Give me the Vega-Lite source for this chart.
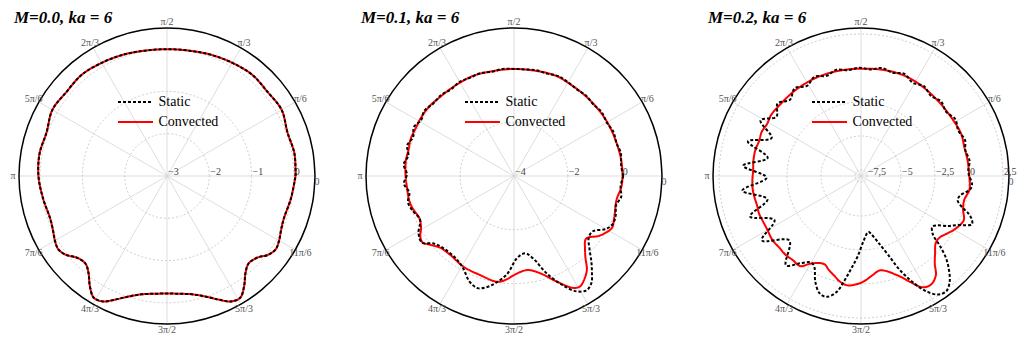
{
"$schema":"https://vega.github.io/schema/vega-lite/v6.json",
"padding":0,
"spacing":17,
"config":{"view":{"stroke":null},"legend":{"orient":"none","legendX":116,"legendY":95,"symbolType":"M-3.5,0H3.5","symbolSize":100,"symbolOffset":12.5,"symbolStrokeWidth":2,"labelFont":"Liberation Serif","labelFontSize":14,"labelColor":"black","labelOffset":16,"rowPadding":6,"padding":0}},
"resolve":{"scale":{"color":"independent","strokeDash":"independent"},"legend":{"color":"independent","strokeDash":"independent"}},
"datasets":{
"ring":[{"a":0},{"a":10},{"a":20},{"a":30},{"a":40},{"a":50},{"a":60},{"a":70},{"a":80},{"a":90},{"a":100},{"a":110},{"a":120},{"a":130},{"a":140},{"a":150},{"a":160},{"a":170},{"a":180},{"a":190},{"a":200},{"a":210},{"a":220},{"a":230},{"a":240},{"a":250},{"a":260},{"a":270},{"a":280},{"a":290},{"a":300},{"a":310},{"a":320},{"a":330},{"a":340},{"a":350},{"a":360}],
"spokes":[{"a":0},{"a":30},{"a":60},{"a":90},{"a":120},{"a":150},{"a":180},{"a":210},{"a":240},{"a":270},{"a":300},{"a":330}],
"alab":[{"a":30,"lab":"π/6"},{"a":60,"lab":"π/3"},{"a":90,"lab":"π/2"},{"a":120,"lab":"2π/3"},{"a":150,"lab":"5π/6"},{"a":180,"lab":"π"},{"a":210,"lab":"7π/6"},{"a":240,"lab":"4π/3"},{"a":270,"lab":"3π/2"},{"a":300,"lab":"5π/3"},{"a":330,"lab":"11π/6"}],
"zlab":[{"a":0,"lab":"0"}],
"g1":[{"v":-3,"lab":"−3"},{"v":-2,"lab":"−2"},{"v":-1,"lab":"−1"},{"v":0,"lab":"0"}],
"g2":[{"v":-4,"lab":"−4"},{"v":-2,"lab":"−2"},{"v":0,"lab":"0"}],
"g3":[{"v":-7.5,"lab":"−7,5"},{"v":-5,"lab":"−5"},{"v":-2.5,"lab":"−2,5"},{"v":0,"lab":"0"},{"v":2.5,"lab":"2,5"}],
"c1":[
{"s":"Convected","t":0,"r":0.04},{"s":"Convected","t":10,"r":0.06},{"s":"Convected","t":20,"r":0.03},{"s":"Convected","t":30,"r":0.13},{"s":"Convected","t":40,"r":0.10},{"s":"Convected","t":50,"r":0.13},{"s":"Convected","t":60,"r":0.09},{"s":"Convected","t":70,"r":0.05},{"s":"Convected","t":80,"r":0.01},{"s":"Convected","t":90,"r":0.0},{"s":"Convected","t":100,"r":0.01},{"s":"Convected","t":110,"r":0.05},{"s":"Convected","t":120,"r":0.09},{"s":"Convected","t":130,"r":0.13},{"s":"Convected","t":140,"r":0.10},{"s":"Convected","t":150,"r":0.13},{"s":"Convected","t":160,"r":0.03},{"s":"Convected","t":170,"r":0.06},{"s":"Convected","t":180,"r":0.04},{"s":"Convected","t":190,"r":-0.02},{"s":"Convected","t":200,"r":-0.06},{"s":"Convected","t":205,"r":-0.02},{"s":"Convected","t":210,"r":0.06},{"s":"Convected","t":214,"r":0.1},{"s":"Convected","t":218,"r":0.03},{"s":"Convected","t":222,"r":-0.12},{"s":"Convected","t":227,"r":-0.17},{"s":"Convected","t":231,"r":-0.05},{"s":"Convected","t":235,"r":0.18},{"s":"Convected","t":239,"r":0.36},{"s":"Convected","t":243,"r":0.33},{"s":"Convected","t":247,"r":0.18},{"s":"Convected","t":252,"r":0.0},{"s":"Convected","t":258,"r":-0.14},{"s":"Convected","t":264,"r":-0.2},{"s":"Convected","t":270,"r":-0.22},{"s":"Convected","t":276,"r":-0.2},{"s":"Convected","t":282,"r":-0.14},{"s":"Convected","t":288,"r":0.0},{"s":"Convected","t":293,"r":0.18},{"s":"Convected","t":297,"r":0.33},{"s":"Convected","t":301,"r":0.36},{"s":"Convected","t":305,"r":0.18},{"s":"Convected","t":309,"r":-0.05},{"s":"Convected","t":313,"r":-0.17},{"s":"Convected","t":318,"r":-0.12},{"s":"Convected","t":322,"r":0.03},{"s":"Convected","t":326,"r":0.1},{"s":"Convected","t":330,"r":0.06},{"s":"Convected","t":335,"r":-0.02},{"s":"Convected","t":340,"r":-0.06},{"s":"Convected","t":350,"r":-0.02},{"s":"Convected","t":360,"r":0.04},
{"s":"Static","t":0,"r":0.04},{"s":"Static","t":10,"r":0.06},{"s":"Static","t":20,"r":0.03},{"s":"Static","t":30,"r":0.13},{"s":"Static","t":40,"r":0.10},{"s":"Static","t":50,"r":0.13},{"s":"Static","t":60,"r":0.09},{"s":"Static","t":70,"r":0.05},{"s":"Static","t":80,"r":0.01},{"s":"Static","t":90,"r":0.0},{"s":"Static","t":100,"r":0.01},{"s":"Static","t":110,"r":0.05},{"s":"Static","t":120,"r":0.09},{"s":"Static","t":130,"r":0.13},{"s":"Static","t":140,"r":0.10},{"s":"Static","t":150,"r":0.13},{"s":"Static","t":160,"r":0.03},{"s":"Static","t":170,"r":0.06},{"s":"Static","t":180,"r":0.04},{"s":"Static","t":190,"r":-0.02},{"s":"Static","t":200,"r":-0.06},{"s":"Static","t":205,"r":-0.02},{"s":"Static","t":210,"r":0.06},{"s":"Static","t":214,"r":0.1},{"s":"Static","t":218,"r":0.03},{"s":"Static","t":222,"r":-0.12},{"s":"Static","t":227,"r":-0.17},{"s":"Static","t":231,"r":-0.05},{"s":"Static","t":235,"r":0.18},{"s":"Static","t":239,"r":0.36},{"s":"Static","t":243,"r":0.33},{"s":"Static","t":247,"r":0.18},{"s":"Static","t":252,"r":0.0},{"s":"Static","t":258,"r":-0.14},{"s":"Static","t":264,"r":-0.2},{"s":"Static","t":270,"r":-0.22},{"s":"Static","t":276,"r":-0.2},{"s":"Static","t":282,"r":-0.14},{"s":"Static","t":288,"r":0.0},{"s":"Static","t":293,"r":0.18},{"s":"Static","t":297,"r":0.33},{"s":"Static","t":301,"r":0.36},{"s":"Static","t":305,"r":0.18},{"s":"Static","t":309,"r":-0.05},{"s":"Static","t":313,"r":-0.17},{"s":"Static","t":318,"r":-0.12},{"s":"Static","t":322,"r":0.03},{"s":"Static","t":326,"r":0.1},{"s":"Static","t":330,"r":0.06},{"s":"Static","t":335,"r":-0.02},{"s":"Static","t":340,"r":-0.06},{"s":"Static","t":350,"r":-0.02},{"s":"Static","t":360,"r":0.04}],
"c2":[
{"s":"Convected","t":0,"r":0.04},{"s":"Convected","t":8,"r":0.03},{"s":"Convected","t":15,"r":0.01},{"s":"Convected","t":23,"r":0.0},{"s":"Convected","t":31,"r":0.0},{"s":"Convected","t":40,"r":-0.01},{"s":"Convected","t":50,"r":-0.01},{"s":"Convected","t":59,"r":0.0},{"s":"Convected","t":67,"r":0.04},{"s":"Convected","t":76,"r":0.0},{"s":"Convected","t":90,"r":-0.02},{"s":"Convected","t":103,"r":-0.02},{"s":"Convected","t":112,"r":0.02},{"s":"Convected","t":120,"r":0.01},{"s":"Convected","t":127,"r":0.01},{"s":"Convected","t":133,"r":0.02},{"s":"Convected","t":140,"r":0.07},{"s":"Convected","t":148,"r":0.08},{"s":"Convected","t":154,"r":0.06},{"s":"Convected","t":160,"r":0.08},{"s":"Convected","t":166,"r":0.04},{"s":"Convected","t":172,"r":0.06},{"s":"Convected","t":180,"r":0.03},{"s":"Convected","t":186,"r":0.0},{"s":"Convected","t":193,"r":0.0},{"s":"Convected","t":198,"r":-0.05},{"s":"Convected","t":204,"r":-0.15},{"s":"Convected","t":209,"r":-0.05},{"s":"Convected","t":213,"r":0.15},{"s":"Convected","t":216,"r":0.2},{"s":"Convected","t":219,"r":0.05},{"s":"Convected","t":224,"r":-0.17},{"s":"Convected","t":231,"r":-0.23},{"s":"Convected","t":241,"r":-0.14},{"s":"Convected","t":251,"r":-0.11},{"s":"Convected","t":261,"r":-0.02},{"s":"Convected","t":266,"r":-0.15},{"s":"Convected","t":270,"r":-0.32},{"s":"Convected","t":278,"r":-0.47},{"s":"Convected","t":285,"r":-0.26},{"s":"Convected","t":292,"r":0.23},{"s":"Convected","t":298,"r":0.71},{"s":"Convected","t":301,"r":0.78},{"s":"Convected","t":305,"r":0.6},{"s":"Convected","t":308,"r":0.4},{"s":"Convected","t":311,"r":0.05},{"s":"Convected","t":314,"r":-0.2},{"s":"Convected","t":319,"r":-0.45},{"s":"Convected","t":325,"r":-0.13},{"s":"Convected","t":332,"r":0.12},{"s":"Convected","t":336,"r":0.06},{"s":"Convected","t":340,"r":-0.01},{"s":"Convected","t":347,"r":-0.09},{"s":"Convected","t":354,"r":0.01},{"s":"Convected","t":360,"r":0.04},
{"s":"Static","t":0,"r":0.06},{"s":"Static","t":6,"r":0.0},{"s":"Static","t":12,"r":0.06},{"s":"Static","t":18,"r":0.0},{"s":"Static","t":24,"r":0.04},{"s":"Static","t":30,"r":-0.02},{"s":"Static","t":36,"r":0.03},{"s":"Static","t":42,"r":-0.03},{"s":"Static","t":48,"r":0.01},{"s":"Static","t":54,"r":-0.02},{"s":"Static","t":60,"r":0.02},{"s":"Static","t":66,"r":0.06},{"s":"Static","t":72,"r":0.0},{"s":"Static","t":78,"r":0.02},{"s":"Static","t":84,"r":-0.02},{"s":"Static","t":90,"r":-0.02},{"s":"Static","t":96,"r":0.0},{"s":"Static","t":102,"r":-0.04},{"s":"Static","t":108,"r":0.02},{"s":"Static","t":114,"r":0.0},{"s":"Static","t":120,"r":0.04},{"s":"Static","t":126,"r":-0.02},{"s":"Static","t":132,"r":0.05},{"s":"Static","t":138,"r":0.03},{"s":"Static","t":144,"r":0.12},{"s":"Static","t":149,"r":0.03},{"s":"Static","t":154,"r":0.14},{"s":"Static","t":159,"r":0.02},{"s":"Static","t":164,"r":0.13},{"s":"Static","t":169,"r":0.0},{"s":"Static","t":174,"r":0.12},{"s":"Static","t":179,"r":-0.02},{"s":"Static","t":184,"r":0.1},{"s":"Static","t":189,"r":-0.06},{"s":"Static","t":194,"r":0.06},{"s":"Static","t":199,"r":-0.02},{"s":"Static","t":205,"r":-0.15},{"s":"Static","t":211,"r":0.14},{"s":"Static","t":216,"r":0.22},{"s":"Static","t":220,"r":-0.1},{"s":"Static","t":226,"r":-0.25},{"s":"Static","t":235,"r":-0.25},{"s":"Static","t":241,"r":-0.09},{"s":"Static","t":247,"r":0.25},{"s":"Static","t":252,"r":0.38},{"s":"Static","t":256,"r":0.26},{"s":"Static","t":260,"r":0.05},{"s":"Static","t":266,"r":-0.35},{"s":"Static","t":272,"r":-0.94},{"s":"Static","t":278,"r":-1.1},{"s":"Static","t":283,"r":-0.86},{"s":"Static","t":288.5,"r":-0.19},{"s":"Static","t":294,"r":0.44},{"s":"Static","t":298.5,"r":0.88},{"s":"Static","t":302.5,"r":1.03},{"s":"Static","t":306,"r":0.9},{"s":"Static","t":309,"r":0.6},{"s":"Static","t":312,"r":0.3},{"s":"Static","t":316,"r":-0.1},{"s":"Static","t":320.5,"r":-0.4},{"s":"Static","t":325,"r":-0.42},{"s":"Static","t":330,"r":-0.06},{"s":"Static","t":334,"r":0.08},{"s":"Static","t":339,"r":0.05},{"s":"Static","t":344,"r":-0.06},{"s":"Static","t":349,"r":0.06},{"s":"Static","t":354,"r":-0.02},{"s":"Static","t":360,"r":0.06}],
"c3":[
{"s":"Convected","t":0,"r":0.02},{"s":"Convected","t":8,"r":-0.02},{"s":"Convected","t":16,"r":-0.05},{"s":"Convected","t":23,"r":0.05},{"s":"Convected","t":33,"r":-0.03},{"s":"Convected","t":45,"r":-0.03},{"s":"Convected","t":57,"r":0.05},{"s":"Convected","t":67,"r":0.1},{"s":"Convected","t":78,"r":0.03},{"s":"Convected","t":90,"r":-0.05},{"s":"Convected","t":103,"r":-0.03},{"s":"Convected","t":114,"r":0.0},{"s":"Convected","t":122,"r":0.0},{"s":"Convected","t":130,"r":0.0},{"s":"Convected","t":140,"r":0.0},{"s":"Convected","t":146,"r":0.05},{"s":"Convected","t":151,"r":-0.05},{"s":"Convected","t":156,"r":0.05},{"s":"Convected","t":161,"r":-0.02},{"s":"Convected","t":166,"r":0.06},{"s":"Convected","t":172,"r":0.05},{"s":"Convected","t":177,"r":0.0},{"s":"Convected","t":182,"r":0.05},{"s":"Convected","t":187,"r":0.08},{"s":"Convected","t":191,"r":0.05},{"s":"Convected","t":196,"r":0.0},{"s":"Convected","t":200,"r":0.05},{"s":"Convected","t":205,"r":0.0},{"s":"Convected","t":210,"r":0.0},{"s":"Convected","t":216,"r":0.1},{"s":"Convected","t":221,"r":0.05},{"s":"Convected","t":226,"r":0.08},{"s":"Convected","t":231,"r":0.02},{"s":"Convected","t":236,"r":0.05},{"s":"Convected","t":240,"r":-0.5},{"s":"Convected","t":245,"r":-0.88},{"s":"Convected","t":248,"r":-0.9},{"s":"Convected","t":251,"r":-0.65},{"s":"Convected","t":255,"r":-0.35},{"s":"Convected","t":259,"r":0.0},{"s":"Convected","t":263,"r":0.16},{"s":"Convected","t":267,"r":0.05},{"s":"Convected","t":271,"r":-0.15},{"s":"Convected","t":276,"r":-0.55},{"s":"Convected","t":281,"r":-0.86},{"s":"Convected","t":285,"r":-0.7},{"s":"Convected","t":289,"r":-0.3},{"s":"Convected","t":292,"r":0.1},{"s":"Convected","t":295,"r":0.66},{"s":"Convected","t":299,"r":1.42},{"s":"Convected","t":303,"r":1.55},{"s":"Convected","t":307,"r":1.2},{"s":"Convected","t":310,"r":0.5},{"s":"Convected","t":314,"r":-0.1},{"s":"Convected","t":318,"r":-0.55},{"s":"Convected","t":322,"r":-0.6},{"s":"Convected","t":326,"r":-0.35},{"s":"Convected","t":330,"r":-0.04},{"s":"Convected","t":334,"r":0.2},{"s":"Convected","t":337,"r":0.28},{"s":"Convected","t":342,"r":-0.05},{"s":"Convected","t":347,"r":-0.15},{"s":"Convected","t":353,"r":0.1},{"s":"Convected","t":360,"r":0.02},
{"s":"Static","t":0,"r":0.0},{"s":"Static","t":3,"r":-0.04},{"s":"Static","t":8,"r":0.12},{"s":"Static","t":14,"r":-0.04},{"s":"Static","t":19,"r":0.15},{"s":"Static","t":25,"r":-0.05},{"s":"Static","t":31,"r":0.15},{"s":"Static","t":37,"r":-0.1},{"s":"Static","t":43,"r":0.1},{"s":"Static","t":49,"r":-0.12},{"s":"Static","t":55,"r":0.12},{"s":"Static","t":61,"r":-0.1},{"s":"Static","t":67,"r":0.22},{"s":"Static","t":73,"r":0.0},{"s":"Static","t":79,"r":0.15},{"s":"Static","t":85,"r":-0.08},{"s":"Static","t":91,"r":0.02},{"s":"Static","t":97,"r":-0.1},{"s":"Static","t":103,"r":0.08},{"s":"Static","t":109,"r":-0.15},{"s":"Static","t":115,"r":0.12},{"s":"Static","t":121,"r":-0.22},{"s":"Static","t":127,"r":0.15},{"s":"Static","t":133,"r":-0.28},{"s":"Static","t":139,"r":0.18},{"s":"Static","t":145,"r":-0.35},{"s":"Static","t":151,"r":0.5},{"s":"Static","t":157,"r":-0.8},{"s":"Static","t":163,"r":0.75},{"s":"Static","t":169,"r":-0.95},{"s":"Static","t":175,"r":0.75},{"s":"Static","t":181,"r":-1.0},{"s":"Static","t":187,"r":0.85},{"s":"Static","t":194,"r":-0.85},{"s":"Static","t":200,"r":0.75},{"s":"Static","t":207,"r":-0.8},{"s":"Static","t":213,"r":0.75},{"s":"Static","t":222,"r":-0.85},{"s":"Static","t":230,"r":0.63},{"s":"Static","t":235,"r":-0.1},{"s":"Static","t":240,"r":-0.6},{"s":"Static","t":243,"r":-0.4},{"s":"Static","t":246.5,"r":0.5},{"s":"Static","t":250.5,"r":1.2},{"s":"Static","t":254,"r":1.3},{"s":"Static","t":258,"r":0.8},{"s":"Static","t":261,"r":-0.15},{"s":"Static","t":264,"r":-1.1},{"s":"Static","t":267.5,"r":-2.0},{"s":"Static","t":272.5,"r":-3.2},{"s":"Static","t":277.5,"r":-3.8},{"s":"Static","t":280,"r":-3.6},{"s":"Static","t":284.5,"r":-2.9},{"s":"Static","t":289,"r":-1.8},{"s":"Static","t":292.5,"r":-0.45},{"s":"Static","t":296,"r":0.75},{"s":"Static","t":299.5,"r":1.8},{"s":"Static","t":303,"r":2.45},{"s":"Static","t":306.5,"r":2.6},{"s":"Static","t":310,"r":2.2},{"s":"Static","t":313,"r":1.55},{"s":"Static","t":316,"r":0.75},{"s":"Static","t":318.5,"r":-0.2},{"s":"Static","t":321,"r":-1.15},{"s":"Static","t":324.5,"r":-1.5},{"s":"Static","t":327,"r":-1.28},{"s":"Static","t":330,"r":-0.6},{"s":"Static","t":333,"r":0.0},{"s":"Static","t":336.5,"r":0.95},{"s":"Static","t":339,"r":0.75},{"s":"Static","t":341,"r":0.37},{"s":"Static","t":343,"r":-0.2},{"s":"Static","t":346,"r":-0.62},{"s":"Static","t":349,"r":-0.5},{"s":"Static","t":353,"r":0.15},{"s":"Static","t":356,"r":0.24},{"s":"Static","t":360,"r":0.0}]
},
"hconcat":[
{
"width":330,"height":346,
"title":{"text":"M=0.0, ka = 6","anchor":"start","offset":-40,"dx":14,"font":"Liberation Serif","fontSize":17,"fontWeight":"bold","fontStyle":"italic","color":"black","baseline":"alphabetic"},
"encoding":{
"x":{"field":"px","type":"quantitative","scale":{"domain":[-3.9493,3.8547],"nice":false,"zero":false},"axis":null},
"y":{"field":"py","type":"quantitative","scale":{"domain":[-4.0203,4.1622],"nice":false,"zero":false},"axis":null}},
"layer":[
{"data":{"name":"spokes"},"transform":[{"calculate":"0","as":"px"},{"calculate":"0","as":"py"},{"calculate":"3.5*cos(datum.a*PI/180)","as":"qx"},{"calculate":"3.5*sin(datum.a*PI/180)","as":"qy"}],"mark":{"type":"rule","stroke":"#d4d4d4","strokeWidth":0.8},"encoding":{"x2":{"field":"qx"},"y2":{"field":"qy"}}},
{"data":{"name":"ring"},"transform":[{"calculate":"[-2,-1,0]","as":"v"},{"flatten":["v"]},{"calculate":"(datum.v+3)*cos(datum.a*PI/180)","as":"px"},{"calculate":"(datum.v+3)*sin(datum.a*PI/180)","as":"py"}],"mark":{"type":"line","stroke":"#c4c4c4","strokeWidth":0.8,"strokeDash":[2,2],"interpolate":"catmull-rom"},"encoding":{"detail":{"field":"v","type":"nominal"},"order":{"field":"a","type":"quantitative"}}},
{"data":{"name":"ring"},"transform":[{"calculate":"3.5*cos(datum.a*PI/180)","as":"px"},{"calculate":"3.5*sin(datum.a*PI/180)","as":"py"}],"mark":{"type":"line","stroke":"black","strokeWidth":1.5,"interpolate":"catmull-rom"},"encoding":{"order":{"field":"a","type":"quantitative"}}},
{"data":{"name":"alab"},"transform":[{"calculate":"3.6419*cos(datum.a*PI/180)","as":"px"},{"calculate":"3.6419*sin(datum.a*PI/180)","as":"py"}],"mark":{"type":"text","font":"Liberation Serif","fontSize":10,"fill":"#555555","align":"center","baseline":"middle"},"encoding":{"text":{"field":"lab"}}},
{"data":{"name":"zlab"},"transform":[{"calculate":"3.6419","as":"px"},{"calculate":"0","as":"py"}],"mark":{"type":"text","font":"Liberation Serif","fontSize":10,"fill":"#555555","align":"center","baseline":"middle","dx":-4,"dy":6},"encoding":{"text":{"field":"lab"}}},
{"data":{"name":"g1"},"transform":[{"calculate":"datum.v+3","as":"px"},{"calculate":"0","as":"py"}],"mark":{"type":"text","font":"Liberation Serif","fontSize":10,"fill":"#444444","align":"left","baseline":"alphabetic","dx":1,"dy":-1},"encoding":{"text":{"field":"lab"}}},
{"data":{"name":"c1"},"transform":[{"calculate":"datum.r+3","as":"u"},{"calculate":"datum.u*cos(datum.t*PI/180)","as":"px"},{"calculate":"datum.u*sin(datum.t*PI/180)","as":"py"}],"mark":{"type":"line","strokeWidth":2,"interpolate":"catmull-rom"},"encoding":{"order":{"field":"t","type":"quantitative"},"color":{"field":"s","type":"nominal","scale":{"domain":["Static","Convected"],"range":["black","red"]},"legend":{"title":null}},"strokeDash":{"field":"s","type":"nominal","scale":{"domain":["Static","Convected"],"range":[[3,2],[1,0]]},"legend":{"title":null}}}}
]},
{
"width":330,"height":346,
"title":{"text":"M=0.1, ka = 6","anchor":"start","offset":-40,"dx":14,"font":"Liberation Serif","fontSize":17,"fontWeight":"bold","fontStyle":"italic","color":"black","baseline":"alphabetic"},
"encoding":{
"x":{"field":"px","type":"quantitative","scale":{"domain":[-6.2061,6.0574],"nice":false,"zero":false},"axis":null},
"y":{"field":"py","type":"quantitative","scale":{"domain":[-6.3176,6.5405],"nice":false,"zero":false},"axis":null}},
"layer":[
{"data":{"name":"spokes"},"transform":[{"calculate":"0","as":"px"},{"calculate":"0","as":"py"},{"calculate":"5.5*cos(datum.a*PI/180)","as":"qx"},{"calculate":"5.5*sin(datum.a*PI/180)","as":"qy"}],"mark":{"type":"rule","stroke":"#d4d4d4","strokeWidth":0.8},"encoding":{"x2":{"field":"qx"},"y2":{"field":"qy"}}},
{"data":{"name":"ring"},"transform":[{"calculate":"[-2,0]","as":"v"},{"flatten":["v"]},{"calculate":"(datum.v+4)*cos(datum.a*PI/180)","as":"px"},{"calculate":"(datum.v+4)*sin(datum.a*PI/180)","as":"py"}],"mark":{"type":"line","stroke":"#c4c4c4","strokeWidth":0.8,"strokeDash":[2,2],"interpolate":"catmull-rom"},"encoding":{"detail":{"field":"v","type":"nominal"},"order":{"field":"a","type":"quantitative"}}},
{"data":{"name":"ring"},"transform":[{"calculate":"5.5*cos(datum.a*PI/180)","as":"px"},{"calculate":"5.5*sin(datum.a*PI/180)","as":"py"}],"mark":{"type":"line","stroke":"black","strokeWidth":1.5,"interpolate":"catmull-rom"},"encoding":{"order":{"field":"a","type":"quantitative"}}},
{"data":{"name":"alab"},"transform":[{"calculate":"5.723*cos(datum.a*PI/180)","as":"px"},{"calculate":"5.723*sin(datum.a*PI/180)","as":"py"}],"mark":{"type":"text","font":"Liberation Serif","fontSize":10,"fill":"#555555","align":"center","baseline":"middle"},"encoding":{"text":{"field":"lab"}}},
{"data":{"name":"zlab"},"transform":[{"calculate":"5.723","as":"px"},{"calculate":"0","as":"py"}],"mark":{"type":"text","font":"Liberation Serif","fontSize":10,"fill":"#555555","align":"center","baseline":"middle","dx":-4,"dy":6},"encoding":{"text":{"field":"lab"}}},
{"data":{"name":"g2"},"transform":[{"calculate":"datum.v+4","as":"px"},{"calculate":"0","as":"py"}],"mark":{"type":"text","font":"Liberation Serif","fontSize":10,"fill":"#444444","align":"left","baseline":"alphabetic","dx":1,"dy":-1},"encoding":{"text":{"field":"lab"}}},
{"data":{"name":"c2"},"transform":[{"calculate":"datum.r+4","as":"u"},{"calculate":"datum.u*cos(datum.t*PI/180)","as":"px"},{"calculate":"datum.u*sin(datum.t*PI/180)","as":"py"}],"mark":{"type":"line","strokeWidth":2,"interpolate":"catmull-rom"},"encoding":{"order":{"field":"t","type":"quantitative"},"color":{"field":"s","type":"nominal","scale":{"domain":["Static","Convected"],"range":["black","red"]},"legend":{"title":null}},"strokeDash":{"field":"s","type":"nominal","scale":{"domain":["Static","Convected"],"range":[[3,2],[1,0]]},"legend":{"title":null}}}}
]},
{
"width":330,"height":346,
"title":{"text":"M=0.2, ka = 6","anchor":"start","offset":-40,"dx":14,"font":"Liberation Serif","fontSize":17,"fontWeight":"bold","fontStyle":"italic","color":"black","baseline":"alphabetic"},
"encoding":{
"x":{"field":"px","type":"quantitative","scale":{"domain":[-12.277,11.983],"nice":false,"zero":false},"axis":null},
"y":{"field":"py","type":"quantitative","scale":{"domain":[-12.497,12.938],"nice":false,"zero":false},"axis":null}},
"layer":[
{"data":{"name":"spokes"},"transform":[{"calculate":"0","as":"px"},{"calculate":"0","as":"py"},{"calculate":"10.88*cos(datum.a*PI/180)","as":"qx"},{"calculate":"10.88*sin(datum.a*PI/180)","as":"qy"}],"mark":{"type":"rule","stroke":"#d4d4d4","strokeWidth":0.8},"encoding":{"x2":{"field":"qx"},"y2":{"field":"qy"}}},
{"data":{"name":"ring"},"transform":[{"calculate":"[-7.5,-5,-2.5,0,2.5]","as":"v"},{"flatten":["v"]},{"calculate":"(datum.v+7.94)*cos(datum.a*PI/180)","as":"px"},{"calculate":"(datum.v+7.94)*sin(datum.a*PI/180)","as":"py"}],"mark":{"type":"line","stroke":"#c4c4c4","strokeWidth":0.8,"strokeDash":[2,2],"interpolate":"catmull-rom"},"encoding":{"detail":{"field":"v","type":"nominal"},"order":{"field":"a","type":"quantitative"}}},
{"data":{"name":"ring"},"transform":[{"calculate":"10.88*cos(datum.a*PI/180)","as":"px"},{"calculate":"10.88*sin(datum.a*PI/180)","as":"py"}],"mark":{"type":"line","stroke":"black","strokeWidth":1.5,"interpolate":"catmull-rom"},"encoding":{"order":{"field":"a","type":"quantitative"}}},
{"data":{"name":"alab"},"transform":[{"calculate":"11.321*cos(datum.a*PI/180)","as":"px"},{"calculate":"11.321*sin(datum.a*PI/180)","as":"py"}],"mark":{"type":"text","font":"Liberation Serif","fontSize":10,"fill":"#555555","align":"center","baseline":"middle"},"encoding":{"text":{"field":"lab"}}},
{"data":{"name":"zlab"},"transform":[{"calculate":"11.321","as":"px"},{"calculate":"0","as":"py"}],"mark":{"type":"text","font":"Liberation Serif","fontSize":10,"fill":"#555555","align":"center","baseline":"middle","dx":-4,"dy":6},"encoding":{"text":{"field":"lab"}}},
{"data":{"name":"g3"},"transform":[{"calculate":"datum.v+7.94","as":"px"},{"calculate":"0","as":"py"}],"mark":{"type":"text","font":"Liberation Serif","fontSize":10,"fill":"#444444","align":"left","baseline":"alphabetic","dx":1,"dy":-1},"encoding":{"text":{"field":"lab"}}},
{"data":{"name":"c3"},"transform":[{"calculate":"datum.r+7.94","as":"u"},{"calculate":"datum.u*cos(datum.t*PI/180)","as":"px"},{"calculate":"datum.u*sin(datum.t*PI/180)","as":"py"}],"mark":{"type":"line","strokeWidth":2,"interpolate":"catmull-rom"},"encoding":{"order":{"field":"t","type":"quantitative"},"color":{"field":"s","type":"nominal","scale":{"domain":["Static","Convected"],"range":["black","red"]},"legend":{"title":null}},"strokeDash":{"field":"s","type":"nominal","scale":{"domain":["Static","Convected"],"range":[[3,2],[1,0]]},"legend":{"title":null}}}}
]}
]
}
